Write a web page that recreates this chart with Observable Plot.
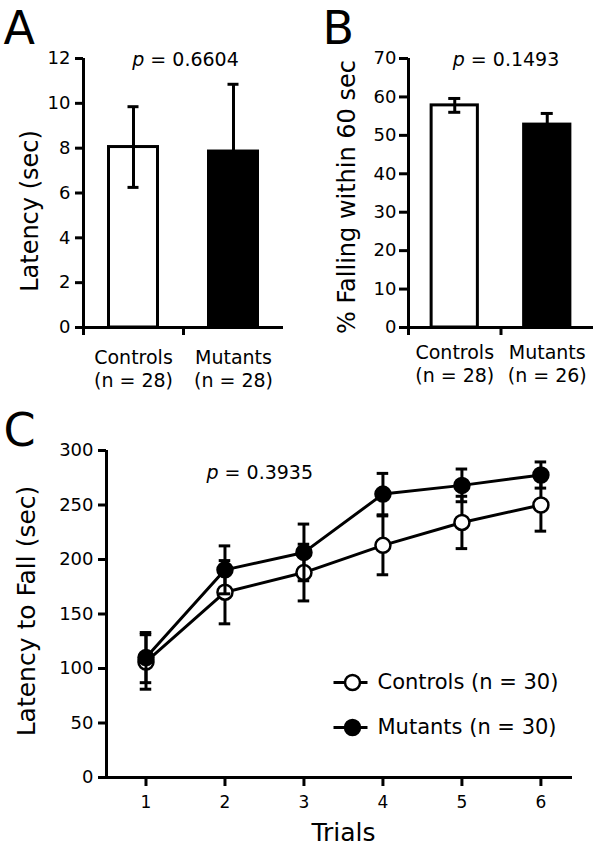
<!DOCTYPE html>
<html>
<head>
<meta charset="utf-8">
<script src="https://cdn.jsdelivr.net/npm/d3@7"></script>
<script src="https://cdn.jsdelivr.net/npm/@observablehq/plot@0.6"></script>
<style>
  body { margin: 0; background: #fff; }
  #fig { position: relative; width: 600px; height: 848px; font-family: "DejaVu Sans", sans-serif; color: #000; }
  #fig .panel { position: absolute; }
  #fig svg { overflow: visible; background: transparent; display: block; }
</style>
</head>
<body>
<div id="fig">
  <div class="panel" id="pA" style="left:0;top:0"></div>
  <div class="panel" id="pB" style="left:300px;top:0"></div>
  <div class="panel" id="pC" style="left:0;top:390px"></div>
</div>
<script>
// ---------------- data ----------------
const groups = ["Controls", "Mutants"];

// Panel A
const nA = [28, 28];
const latencyMean = [8.05, 7.85];
const latencySem = [1.8, 3.0];
const ticksA = [0, 2, 4, 6, 8, 10, 12];
const pA = "0.6604";

// Panel B
const nB = [28, 26];
const fallingMean = [57.8, 52.8];
const fallingSem = [1.8, 2.9];
const ticksB = [0, 10, 20, 30, 40, 50, 60, 70];
const pB = "0.1493";

// Panel C
const trials = [1, 2, 3, 4, 5, 6];
const controlsMean = [106, 170, 188, 213, 234, 250];
const controlsSem = [25, 29, 26, 27, 24, 24];
const mutantsMean = [110, 190.5, 206.5, 260, 268, 277.5];
const mutantsSem = [23, 22, 26, 19, 15, 12];
const nC = [30, 30];
const ticksC = [0, 50, 100, 150, 200, 250, 300];
const pC = "0.3935";

// ---------------- helpers ----------------
const FONT = "DejaVu Sans";

function italicP(svg) {
  d3.select(svg).selectAll("text").filter(function () {
    return this.childElementCount === 0 && this.textContent.startsWith("p = ");
  }).each(function () {
    const rest = this.textContent.slice(1);
    this.textContent = "";
    d3.select(this).append("tspan").attr("font-style", "italic").text("p");
    d3.select(this).append("tspan").text(rest);
  });
}

function barPanel(cfg) {
  const rows = groups.map((g, i) => ({
    g, pos: i + 1, mean: cfg.means[i], sem: cfg.sems[i],
    label: `${g}\n(n = ${cfg.ns[i]})`
  }));
  const caps = rows.flatMap(d => [{...d, v: d.mean - d.sem}, {...d, v: d.mean + d.sem}]);
  const xDom = [0.5, groups.length + 0.5];
  const boundaries = rows.map(d => d.pos - 0.5);
  const svg = Plot.plot({
    width: 300, height: 390,
    marginLeft: cfg.ml, marginRight: cfg.mr, marginTop: 58, marginBottom: 63,
    style: {fontFamily: FONT, fontSize: "18px", color: "black", background: "transparent", overflow: "visible"},
    x: {domain: xDom},
    y: {domain: [0, cfg.ticks[cfg.ticks.length - 1]]},
    color: {type: "identity"},
    marks: [
      Plot.rect(rows, {x1: d => d.pos - cfg.barHalf, x2: d => d.pos + cfg.barHalf, y1: 0, y2: "mean",
        fill: d => d.pos === 1 ? "white" : "black", stroke: "black", strokeWidth: 3}),
      Plot.ruleX(rows, {x: "pos", y1: d => d.mean - d.sem, y2: d => d.mean + d.sem, stroke: "black", strokeWidth: 3}),
      Plot.ruleY(caps, {y: "v", x1: d => d.pos - cfg.cap, x2: d => d.pos + cfg.cap, stroke: "black", strokeWidth: 3}),
      Plot.axisY({ticks: cfg.ticks, tickSize: cfg.tickSize, tickPadding: cfg.tickPad, strokeWidth: 3, fontSize: 18, label: null}),
      Plot.axisX({ticks: boundaries, tickSize: 8, strokeWidth: 3, tickFormat: () => "", label: null}),
      Plot.ruleY([0], {stroke: "black", strokeWidth: 3}),
      Plot.ruleX([xDom[0]], {stroke: "black", strokeWidth: 3}),
      Plot.text(rows, {x: "pos", y: 0, text: "label", lineAnchor: "top", dy: cfg.catDy, fontSize: 19, lineHeight: 1.26}),
      Plot.text([cfg.p], {frameAnchor: "top", text: d => `p = ${d}`, lineAnchor: "middle", dx: cfg.pDx, dy: 1, fontSize: 19}),
      Plot.text([cfg.yLabel], {frameAnchor: "left", rotate: -90, textAnchor: "middle", lineAnchor: "middle", dx: cfg.yLabDx, dy: cfg.yLabDy, fontSize: 24}),
      Plot.text([cfg.letter], {frameAnchor: "top-left", textAnchor: "start", lineAnchor: "middle", dx: cfg.letDx, dy: -29, fontSize: 46})
    ]
  });
  italicP(svg);
  return svg;
}

document.getElementById("pA").appendChild(barPanel({
  letter: "A", means: latencyMean, sems: latencySem, ns: nA, ticks: ticksA, p: pA,
  yLabel: "Latency (sec)", ml: 83, mr: 17, barHalf: 0.245, cap: 0.055,
  tickSize: 8, tickPad: 5, catDy: 19, pDx: 2, yLabDx: -53, yLabDy: 18, letDx: -80
}));

document.getElementById("pB").appendChild(barPanel({
  letter: "B", means: fallingMean, sems: fallingSem, ns: nB, ticks: ticksB, p: pB,
  yLabel: "% Falling within 60 sec", ml: 108, mr: 7, barHalf: 0.25, cap: 0.065,
  tickSize: 9, tickPad: 3, catDy: 14, pDx: 5, yLabDx: -61, yLabDy: 4, letDx: -86
}));

// ---------------- Panel C ----------------
(function () {
  const series = [
    {name: "Controls", mean: controlsMean, sem: controlsSem, n: nC[0], fill: "white"},
    {name: "Mutants", mean: mutantsMean, sem: mutantsSem, n: nC[1], fill: "black"}
  ];
  const xDom = [0.5, 6.4];
  const cap = 0.073;
  const lineSymbol = {draw(ctx) { ctx.moveTo(-17, 0); ctx.lineTo(17, 0); }};
  const marks = [];
  series.forEach(s => {
    const rows = trials.map((t, i) => ({trial: t, mean: s.mean[i], sem: s.sem[i]}));
    const caps = rows.flatMap(d => [{...d, v: d.mean - d.sem}, {...d, v: d.mean + d.sem}]);
    marks.push(
      Plot.line(rows, {x: "trial", y: "mean", stroke: "black", strokeWidth: 3}),
      Plot.ruleX(rows, {x: "trial", y1: d => d.mean - d.sem, y2: d => d.mean + d.sem, stroke: "black", strokeWidth: 3}),
      Plot.ruleY(caps, {y: "v", x1: d => d.trial - cap, x2: d => d.trial + cap, stroke: "black", strokeWidth: 3}),
      Plot.dot(rows, {x: "trial", y: "mean", r: 7.5, fill: s.fill, stroke: "black", strokeWidth: 2.5})
    );
  });
  series.forEach((s, i) => {
    const dy = 232 + 45 * i;
    marks.push(
      Plot.dot([s.name], {frameAnchor: "top-left", dx: 244, dy, symbol: lineSymbol, r: 5, fill: "none", stroke: "black", strokeWidth: 3}),
      Plot.dot([s.name], {frameAnchor: "top-left", dx: 246, dy, r: 7.5, fill: s.fill, stroke: "black", strokeWidth: 2.5}),
      Plot.text([`${s.name} (n = ${s.n})`], {frameAnchor: "top-left", dx: 271, dy, textAnchor: "start", lineAnchor: "middle", fontSize: 21})
    );
  });
  marks.push(
    Plot.axisY({ticks: ticksC, tickSize: 8, tickPadding: 5, strokeWidth: 3, fontSize: 18, label: null}),
    Plot.axisX({ticks: trials, tickFormat: d => String(d), tickSize: 9, tickPadding: 9, strokeWidth: 3, fontSize: 17, label: null}),
    Plot.ruleY([0], {stroke: "black", strokeWidth: 3}),
    Plot.ruleX([xDom[0]], {stroke: "black", strokeWidth: 3}),
    Plot.text([pC], {frameAnchor: "top-left", text: d => `p = ${d}`, textAnchor: "start", lineAnchor: "middle", dx: 100, dy: 22, fontSize: 19}),
    Plot.text(["Latency to Fall (sec)"], {frameAnchor: "left", rotate: -90, textAnchor: "middle", lineAnchor: "middle", dx: -80, dy: -3, fontSize: 25}),
    Plot.text(["Trials"], {frameAnchor: "bottom", textAnchor: "middle", lineAnchor: "middle", dx: 4, dy: 55, fontSize: 25}),
    Plot.text(["C"], {frameAnchor: "top-left", textAnchor: "start", lineAnchor: "middle", dx: -103, dy: -19, fontSize: 46})
  );
  const svg = Plot.plot({
    width: 600, height: 458,
    marginLeft: 106, marginRight: 28, marginTop: 60, marginBottom: 71,
    style: {fontFamily: FONT, fontSize: "18px", color: "black", background: "transparent", overflow: "visible"},
    x: {domain: xDom},
    y: {domain: [0, 300]},
    marks
  });
  italicP(svg);
  document.getElementById("pC").appendChild(svg);
})();
</script>
</body>
</html>
